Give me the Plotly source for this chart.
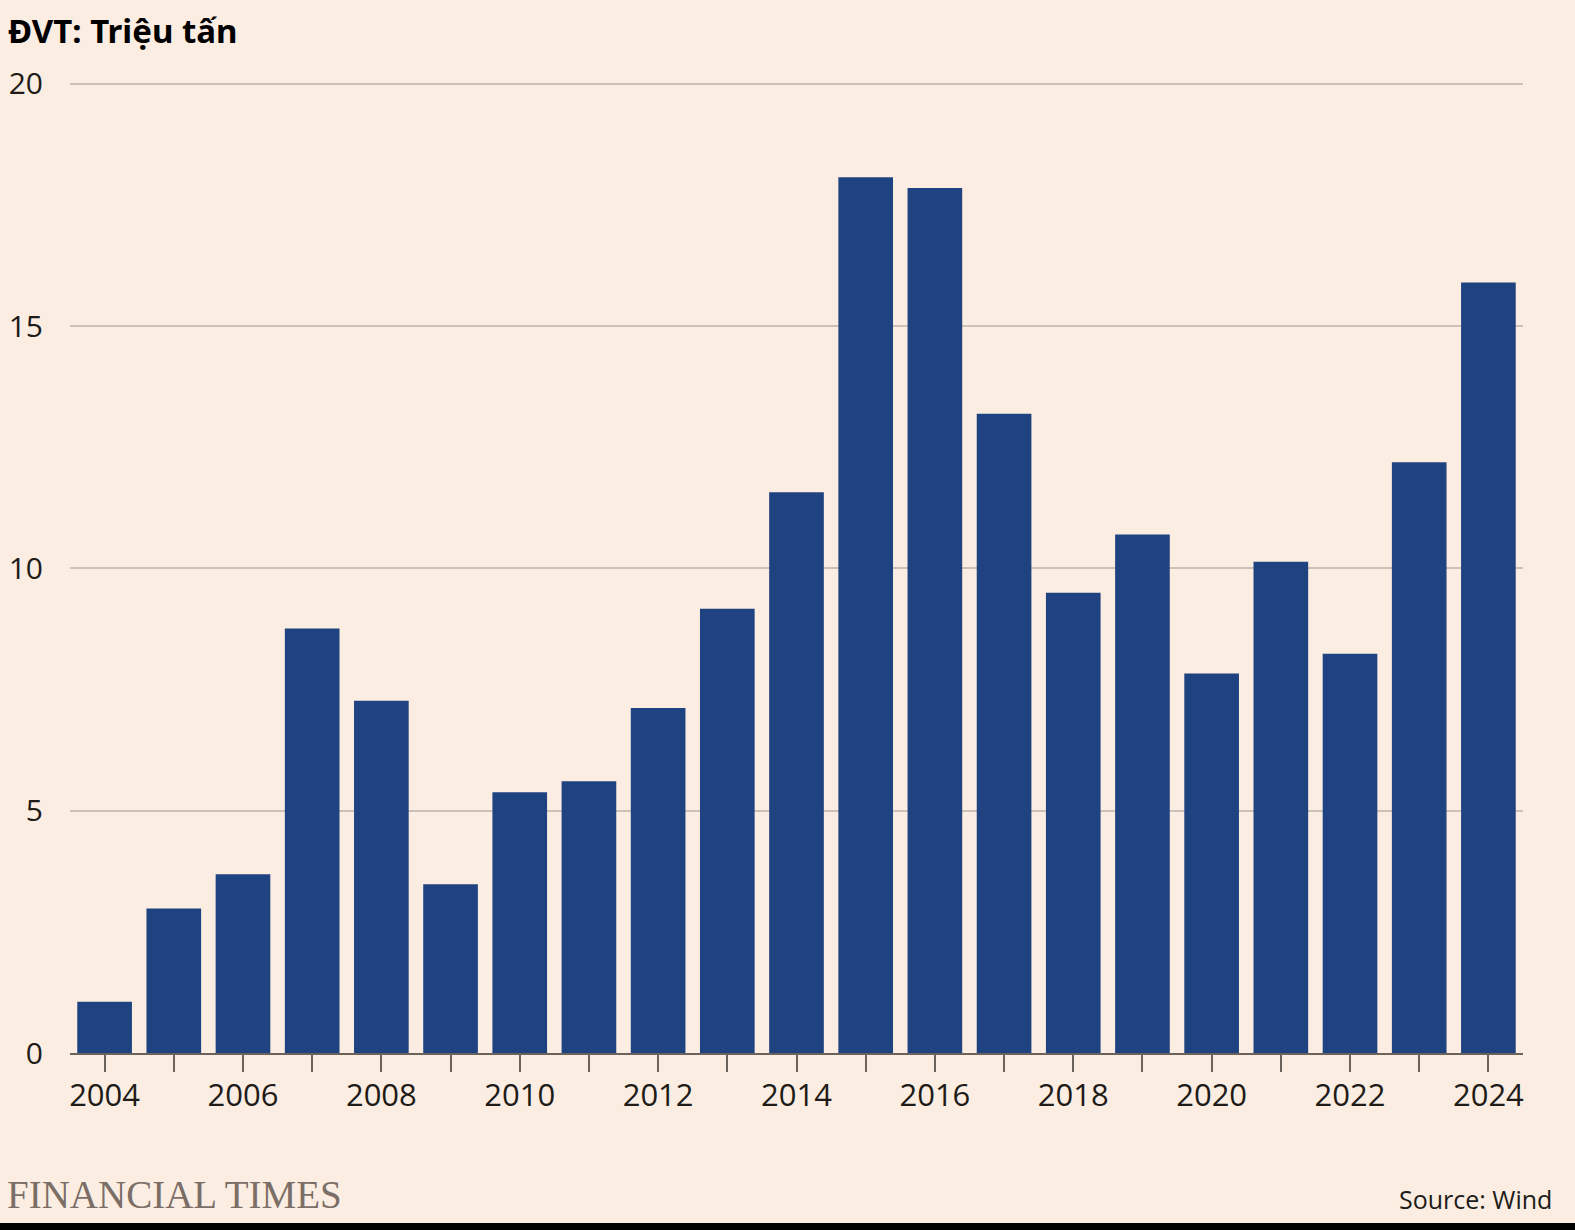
import plotly.graph_objects as go

years = list(range(2004, 2025))
values = [1.06, 2.98, 3.69, 8.76, 7.27, 3.48, 5.38, 5.61, 7.12, 9.17, 11.57,
          18.07, 17.85, 13.19, 9.50, 10.70, 7.83, 10.14, 8.24, 12.19, 15.90]
title_text = "ĐVT: Triệu tấn"
source_text = "Source: Wind"
brand_text = "FINANCIAL TIMES"

BG = "#FBEDE2"
BAR = "#1F4381"
W, H = 1575, 1230
L, R, T, B = 70, 52, 79, 177

fig = go.Figure(go.Bar(x=years, y=values, marker_color=BAR, marker_line_width=0,
                       width=0.79))

fig.update_layout(
    width=W, height=H, paper_bgcolor=BG, plot_bgcolor=BG,
    margin=dict(l=L, r=R, t=T, b=B, autoexpand=False),
    showlegend=False,
    font=dict(family="Open Sans", color="#211b18"),
)
fig.update_xaxes(range=[2003.5, 2024.5], tickmode="linear", tick0=2004, dtick=2,
                 ticks="outside", ticklen=17, tickwidth=2, tickcolor="#6b625c",
                 minor=dict(ticks="outside", ticklen=17, tickwidth=2, tickcolor="#6b625c",
                            tick0=2004, dtick=1),
                 showgrid=False, zeroline=False, showline=True, linecolor="#6b625c",
                 linewidth=2, tickfont=dict(size=31, color="#211b18"), ticklabelstandoff=-3)
fig.update_yaxes(range=[0, 20.1], tickmode="array", tickvals=[0, 5, 10, 15, 20],
                 showgrid=True, gridcolor="#cbc1b8", gridwidth=2, zeroline=False,
                 showline=False, tickfont=dict(size=30, color="#211b18"),
                 ticklabelstandoff=26)

ph = H - T - B
def py(pixel_y):
    return (H - B - pixel_y) / ph

fig.add_annotation(text="<b>" + title_text + "</b>", xref="paper", yref="paper",
                   x=-(L - 6) / (W - L - R), y=py(31), xanchor="left", yanchor="middle",
                   showarrow=False, font=dict(family="Noto Sans", size=33, color="#000000"))
fig.add_annotation(text=brand_text, xref="paper", yref="paper",
                   x=-(L - 5) / (W - L - R), y=py(1194), xanchor="left", yanchor="middle",
                   showarrow=False, font=dict(family="Liberation Serif", size=39, color="#7a6e66"))
fig.add_annotation(text=source_text, xref="paper", yref="paper",
                   x=1 + (1554 - (W - R)) / (W - L - R), y=py(1199), xanchor="right",
                   yanchor="middle", showarrow=False,
                   font=dict(family="Open Sans", size=25, color="#211b18"))
fig.add_shape(type="rect", xref="paper", yref="paper",
              x0=-L / (W - L - R), x1=1 + R / (W - L - R), y0=py(1231), y1=py(1223),
              fillcolor="#000000", line_width=0, layer="above")

fig.write_html("out.html", config={"displayModeBar": False},
               post_script="document.body.style.margin='0';document.body.style.background='" + BG + "';")
